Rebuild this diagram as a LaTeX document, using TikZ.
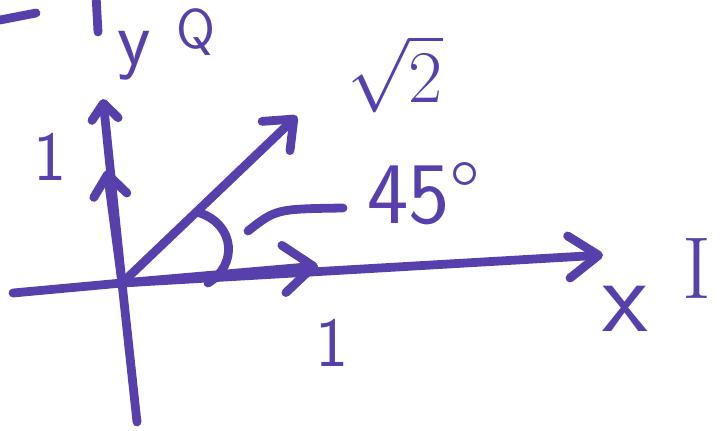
\documentclass[tikz,border=0pt]{standalone}
\usepackage{amsmath,amssymb}
\usepackage{tikz}
\usetikzlibrary{arrows.meta}
\definecolor{marker}{RGB}{88,64,172}

\begin{document}
\begin{tikzpicture}[x=0.02cm, y=-0.02cm,
  pen/.style={draw=marker, line width=5pt, line cap=round, line join=round},
  barb/.style 2 args={-{Straight Barb[round, length=#1pt, width=#2pt]}},
  lbl/.style={text=marker, inner sep=0pt, font=\sffamily\fontsize{40}{44}\selectfont}]
\clip (0,0) rectangle (727,430);
% axes and end points
\coordinate (o) at (122,283);
\coordinate (xw) at (13,293);
\coordinate (xe) at (603,255);
\coordinate (ys) at (137,422);
\coordinate (yn) at (103,99);
\coordinate (ux) at (318,266);
\coordinate (uy) at (107,170);
\coordinate (diag) at (297,116);
\draw[pen, barb={17}{24}] (xw) -- (o) -- (xe);
\draw[pen, barb={9}{15}] (ys) -- (o) -- (yn);
\draw[pen, barb={17}{27}] (o) -- (ux);
\draw[pen, barb={12}{19}] (o) -- (uy);
\draw[pen, barb={14}{23}] (o) -- (diag);
% angle mark and its leader
\coordinate (arc1) at (200,213);
\coordinate (arc2) at (208,283);
\draw[pen] (arc1) .. controls (235,225) and (238,265) .. (arc2);
\coordinate (lead1) at (248,231);
\coordinate (lead2) at (343,208);
\draw[pen] (lead1) .. controls (276,209) .. (lead2);
% strokes cut off at the top edge
\coordinate (dash1) at (0,20);
\coordinate (dash2) at (36,13);
\draw[pen] (dash1) -- (dash2);
\coordinate (bar1) at (96,-5);
\coordinate (bar2) at (98,32);
\draw[pen] (bar1) -- (bar2);
% labels
\node[lbl] (onex) at (332,343) {1};
\node[lbl] (oney) at (50,157) {1};
\node[lbl, font=\Huge] (root) at (395,74) {\scalebox{1.7}{$\sqrt{2}$}};
\node[lbl, font=\sffamily\fontsize{50}{54}\selectfont] (angle) at (424,194) {45\textdegree};
\node[lbl, font=\sffamily\fontsize{60}{64}\selectfont] (xlab) at (625,309) {x};
\node[lbl, font=\rmfamily\fontsize{50}{54}\selectfont] (ilab) at (697,268) {I};
\node[lbl, font=\sffamily\fontsize{44}{48}\selectfont] (ylab) at (134,56) {y};
\node[lbl, font=\sffamily\fontsize{32}{36}\selectfont] (qlab) at (196,32) {Q};
\end{tikzpicture}
\end{document}
